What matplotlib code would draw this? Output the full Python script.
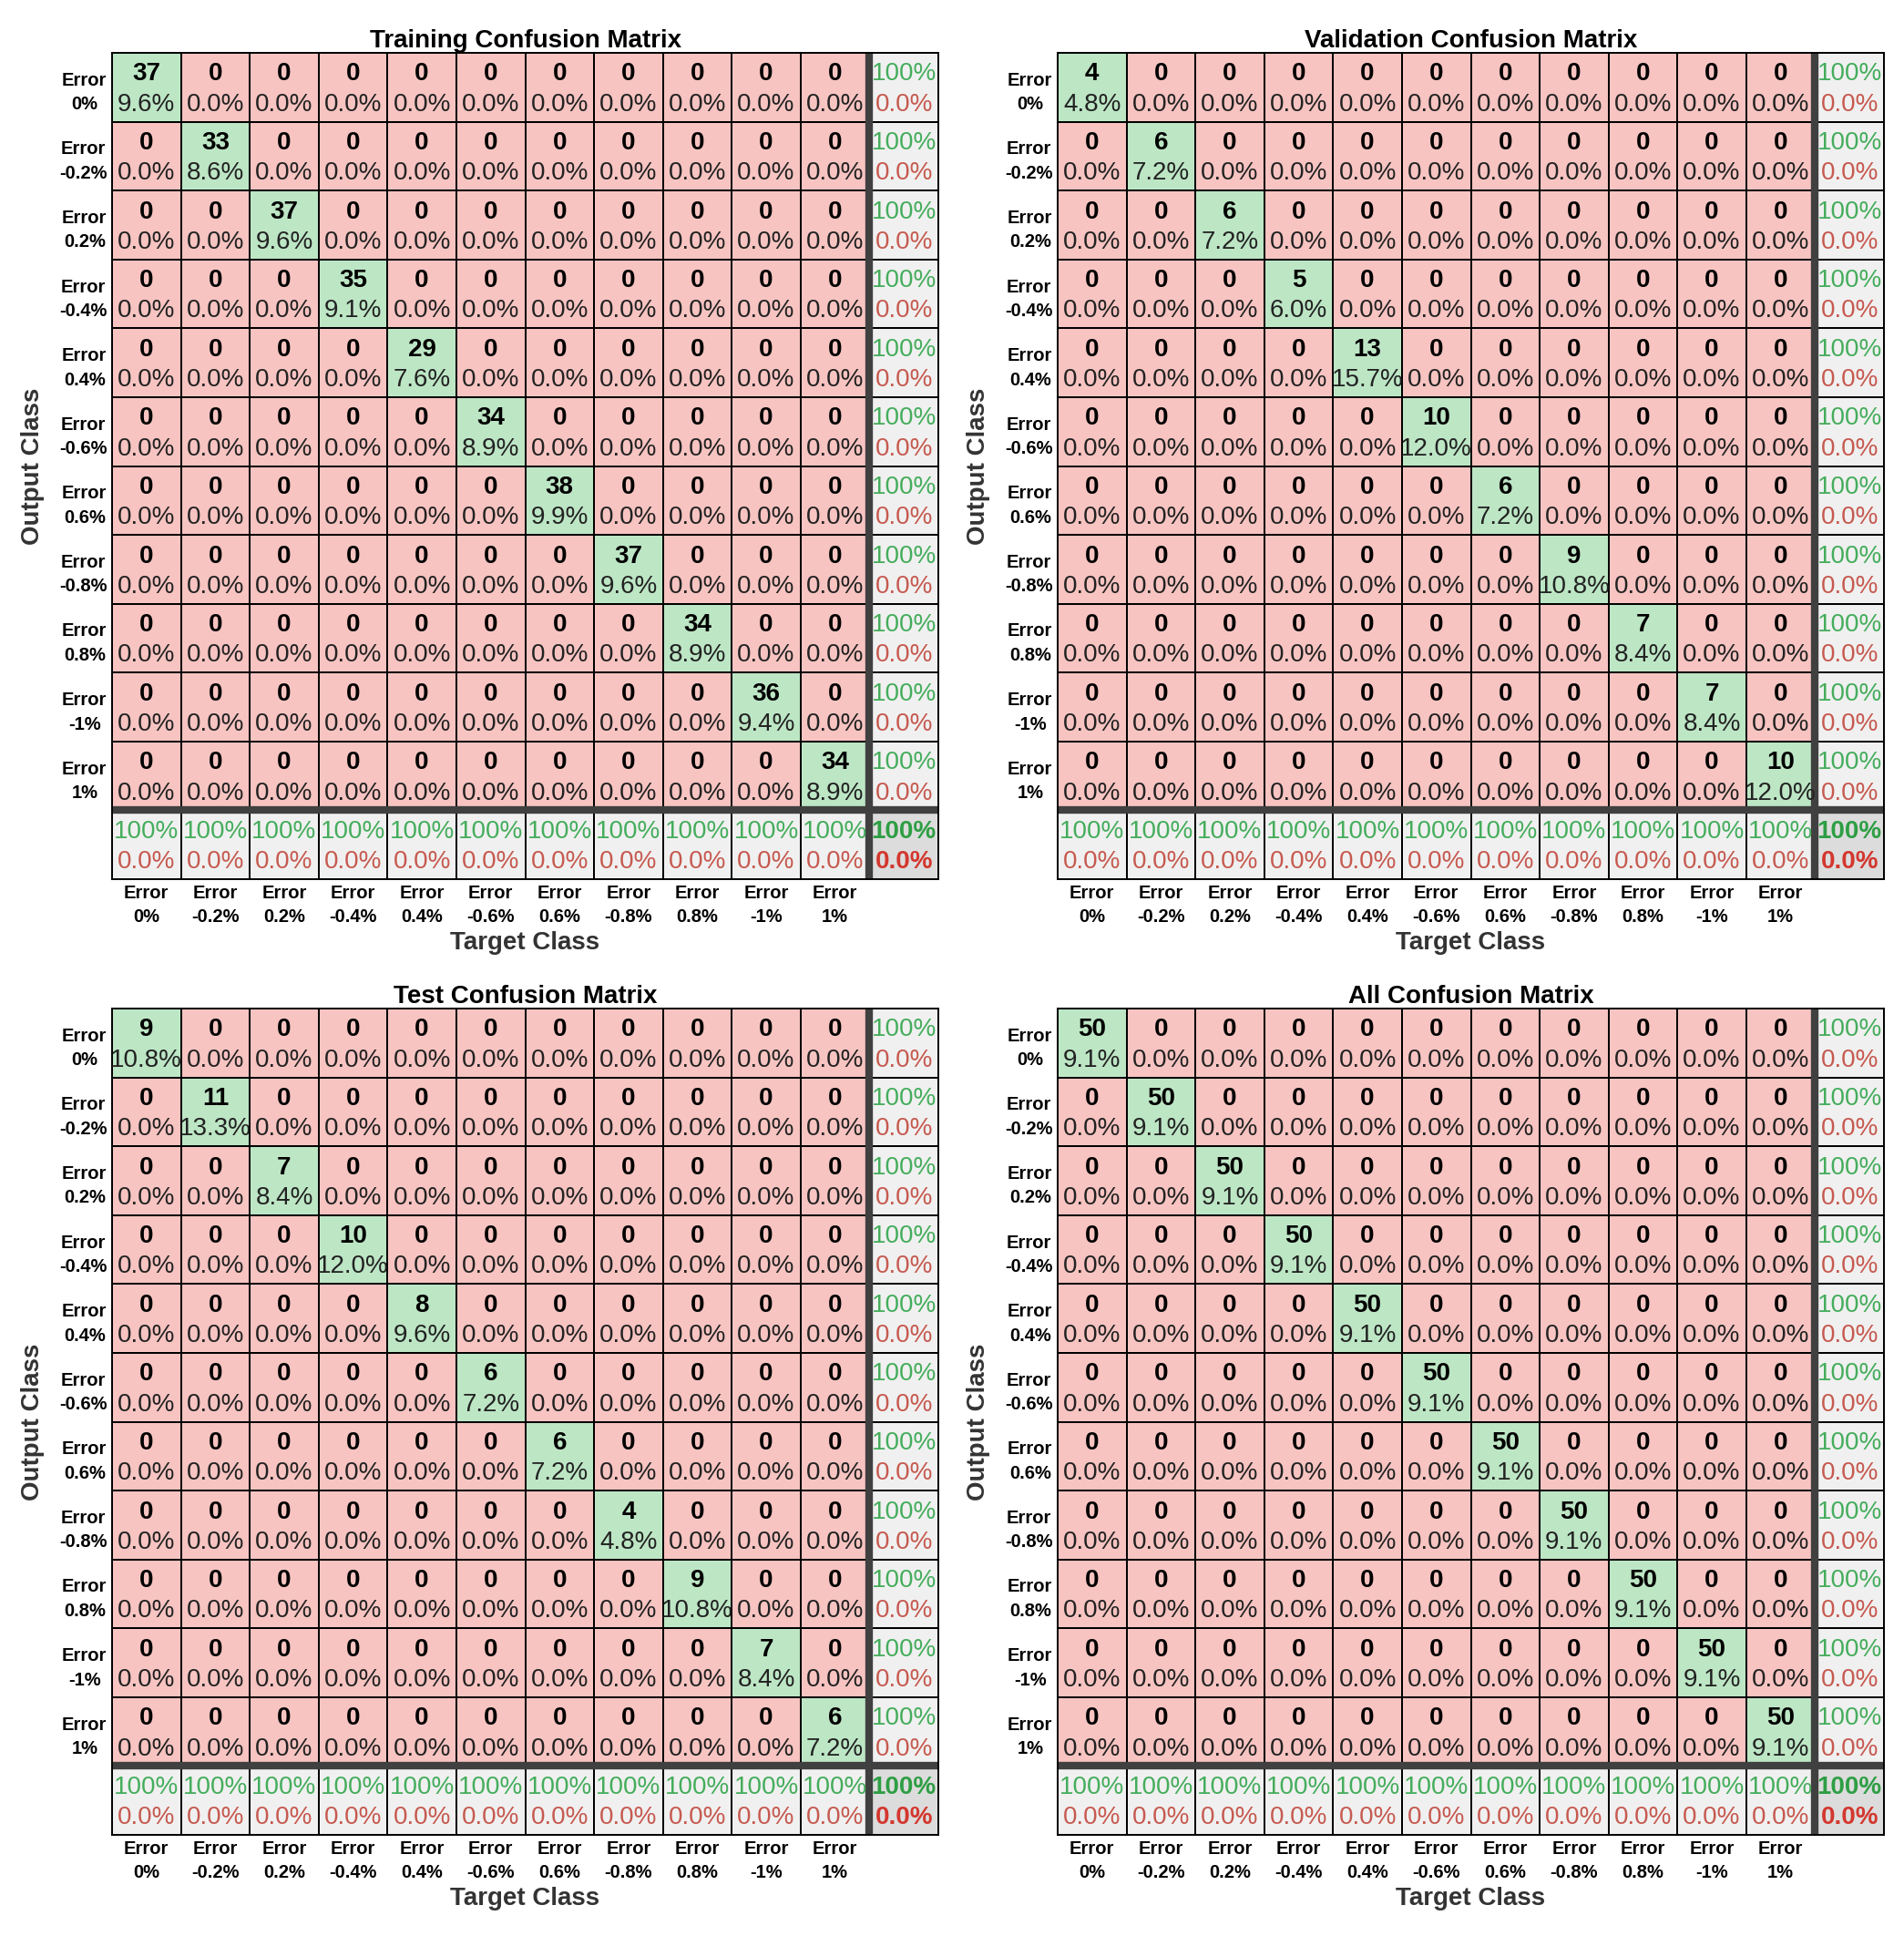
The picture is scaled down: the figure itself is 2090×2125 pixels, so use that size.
import numpy as np
import matplotlib
matplotlib.use("Agg")
import matplotlib.pyplot as plt
from matplotlib.colors import ListedColormap

plt.rcParams['font.family'] = ['Liberation Sans', 'DejaVu Sans']

# Class labels shared by every matrix
class_names = ["0%", "-0.2%", "0.2%", "-0.4%", "0.4%", "-0.6%",
               "0.6%", "-0.8%", "0.8%", "-1%", "1%"]

# Diagonal counts (all off-diagonal counts are 0)
train_diag = [37, 33, 37, 35, 29, 34, 38, 37, 34, 36, 34]
val_diag = [4, 6, 6, 5, 13, 10, 6, 9, 7, 7, 10]
test_diag = [9, 11, 7, 10, 8, 6, 6, 4, 9, 7, 6]
all_diag = [50, 50, 50, 50, 50, 50, 50, 50, 50, 50, 50]

titles = ["Training Confusion Matrix", "Validation Confusion Matrix",
          "Test Confusion Matrix", "All Confusion Matrix"]

RED = '#F7C4C1'
GREEN = '#BDE6C5'
GRAY = '#F0F0F0'
CORNER = '#DCDCDC'
TXT_GREEN = '#45AD5C'
TXT_RED = '#C65A50'
SEP = '#404040'

W, H = 2090, 2125
# axes boxes in pixels: left, top, right, bottom
boxes = [(123, 58, 1030, 965), (1161, 58, 2068, 965),
         (123, 1107, 1030, 2014), (1161, 1107, 2068, 2014)]


def fmt_pct(v):
    return "100%" if round(v, 1) == 100 else f"{v:.1f}%"


def draw_confusion(ax, diag, title, box):
    cm = np.diag(diag).astype(float)
    n = cm.shape[0]
    total = cm.sum()

    cat = np.zeros((n + 1, n + 1))
    cat[np.arange(n), np.arange(n)] = 1
    cat[n, :] = 2
    cat[:, n] = 2
    cat[n, n] = 3
    cmap = ListedColormap([RED, GREEN, GRAY, CORNER])
    ax.pcolormesh(np.arange(n + 2), np.arange(n + 2), cat, cmap=cmap,
                  vmin=-0.5, vmax=3.5, edgecolors='black', linewidth=1.4)

    for i in range(n):
        for j in range(n):
            ax.text(j + 0.5, i + 0.31, f"{int(cm[i, j])}", ha='center', va='center',
                    fontsize=20, fontweight='bold', color='black')
            ax.text(j + 0.5, i + 0.75, f"{100 * cm[i, j] / total:.1f}%", ha='center',
                    va='center', fontsize=20, color='#222222')

    row_sum = cm.sum(axis=1)
    col_sum = cm.sum(axis=0)
    for i in range(n):
        p = 100 * cm[i, i] / row_sum[i]
        ax.text(n + 0.5, i + 0.31, fmt_pct(p), ha='center', va='center',
                fontsize=20, color=TXT_GREEN)
        ax.text(n + 0.5, i + 0.75, fmt_pct(100 - p), ha='center', va='center',
                fontsize=20, color=TXT_RED)
        r = 100 * cm[i, i] / col_sum[i]
        ax.text(i + 0.5, n + 0.31, fmt_pct(r), ha='center', va='center',
                fontsize=20, color=TXT_GREEN)
        ax.text(i + 0.5, n + 0.75, fmt_pct(100 - r), ha='center', va='center',
                fontsize=20, color=TXT_RED)
    acc = 100 * np.trace(cm) / total
    ax.text(n + 0.5, n + 0.31, fmt_pct(acc), ha='center', va='center',
            fontsize=20, fontweight='bold', color='#2E9E44')
    ax.text(n + 0.5, n + 0.75, fmt_pct(100 - acc), ha='center', va='center',
            fontsize=20, fontweight='bold', color='#D3372E')

    ax.axhline(n, color=SEP, lw=6)
    ax.axvline(n, color=SEP, lw=6)

    ax.set_xlim(0, n + 1)
    ax.set_ylim(n + 1, 0)
    labels = ["Error\n" + c for c in class_names]
    ax.set_xticks(np.arange(n) + 0.5)
    ax.set_xticklabels(labels, fontsize=14.5, fontweight='bold', linespacing=1.5)
    ax.set_yticks(np.arange(n) + 0.5)
    ax.set_yticklabels(labels, fontsize=14.5, fontweight='bold', linespacing=1.5,
                       multialignment='center')
    ax.tick_params(axis='x', length=0, pad=4)
    ax.tick_params(axis='y', length=0, pad=4)
    for s in ax.spines.values():
        s.set_linewidth(1.4)
    ax.set_title(title, fontsize=20, fontweight='bold', pad=4)

    l, t, r, b = box
    size = b - t
    ax.set_xlabel("Target Class", fontsize=20, fontweight='bold', color='#333333', va='center')
    ax.xaxis.set_label_coords(0.5, -(1035 - 965) / size)
    ax.set_ylabel("Output Class", fontsize=20, fontweight='bold', color='#333333', va='center')
    ax.yaxis.set_label_coords(-(123 - 36) / size, 0.5)


fig = plt.figure(figsize=(W / 100, H / 100), dpi=100)
for box, diag, title in zip(boxes, [train_diag, val_diag, test_diag, all_diag], titles):
    l, t, r, b = box
    ax = fig.add_axes([l / W, 1 - b / H, (r - l) / W, (b - t) / H])
    draw_confusion(ax, diag, title, box)

fig.savefig("out.png", dpi=100, facecolor='white')
